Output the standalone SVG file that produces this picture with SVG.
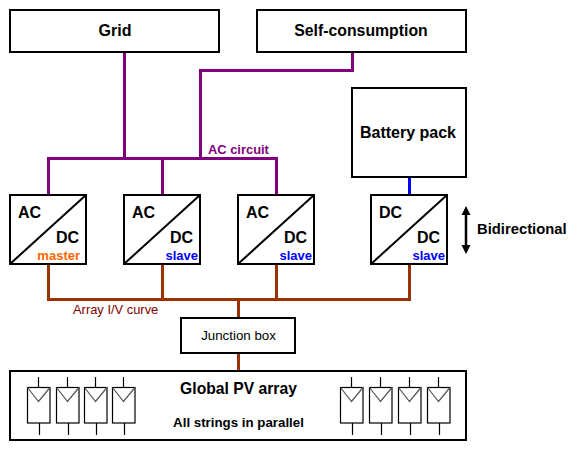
<svg xmlns="http://www.w3.org/2000/svg" width="576" height="451" viewBox="0 0 576 451">
<style>
text{font-family:"Liberation Sans",Arial,sans-serif;font-weight:bold;fill:#000}
.box{fill:#fff;stroke:#000;stroke-width:2}
.big{font-size:16px;text-anchor:middle}
.conv{font-size:16px}
.tag{font-size:13px;text-anchor:end}
.ac{fill:none;stroke:#800080;stroke-width:3}
.dc{fill:none;stroke:#993300;stroke-width:3}
.pv{fill:#fff;stroke:#000;stroke-width:1.200}
.pvt{fill:none;stroke:#000;stroke-width:1.200}
.pvv{fill:none;stroke:#555;stroke-width:1.200}
</style>
<defs>
<g id="panel">
<path class="pvt" d="M11.500 0V10M12.500 46V58"/>
<rect class="pv" x="0.500" y="10.500" width="22.500" height="35.500"/>
<path class="pvv" d="M0.500 10.500L11.500 24.500L23 10.500"/>
</g>
</defs>
<g id="connectors">
<path class="ac" d="M124.500 52V158.500M48.500 195V158.500H276.500V195M162.500 158.500V195M200.500 158.500V70.500H352.500V52"/>
<path class="dc" d="M48.500 264V299.500H409.500V264M162.500 264V299.500M276.500 264V299.500M238.500 299.500V318M238.500 353V371"/>
<path fill="none" stroke="#0000ff" stroke-width="3" d="M409.500 177V195"/>
</g>
<g id="grid"><rect class="box" x="10" y="10" width="209" height="42"/><text class="big" x="115" y="36">Grid</text></g>
<g id="self-consumption"><rect class="box" x="257" y="10" width="209" height="42"/><text class="big" x="361" y="36" style="font-size:15.800px">Self-consumption</text></g>
<g id="battery"><rect class="box" x="352" y="88" width="114" height="89"/><text class="big" x="408" y="138">Battery pack</text></g>
<g id="conv1"><rect class="box" x="10" y="195" width="76" height="69"/><path stroke="#000" stroke-width="2" d="M10 264L86 195"/><text class="conv" x="18" y="218">AC</text><text class="conv" x="56" y="243">DC</text><text class="tag" x="80" y="260" style="fill:#ff6600">master</text></g>
<g id="conv2"><rect class="box" x="124" y="195" width="76" height="69"/><path stroke="#000" stroke-width="2" d="M124 264L200 195"/><text class="conv" x="132" y="218">AC</text><text class="conv" x="170" y="243">DC</text><text class="tag" x="198" y="260" style="fill:#0000ff">slave</text></g>
<g id="conv3"><rect class="box" x="238" y="195" width="76" height="69"/><path stroke="#000" stroke-width="2" d="M238 264L314 195"/><text class="conv" x="246" y="218">AC</text><text class="conv" x="284" y="243">DC</text><text class="tag" x="312" y="260" style="fill:#0000ff">slave</text></g>
<g id="conv4"><rect class="box" x="371" y="195" width="76" height="69"/><path stroke="#000" stroke-width="2" d="M371 264L447 195"/><text class="conv" x="379" y="218">DC</text><text class="conv" x="417" y="243">DC</text><text class="tag" x="445" y="260" style="fill:#0000ff">slave</text></g>
<g id="junction"><rect class="box" x="181" y="318" width="114" height="35"/><text x="238.500" y="340" text-anchor="middle" font-size="13.300" style="font-weight:normal">Junction box</text></g>
<g id="array"><rect class="box" x="10" y="371" width="456" height="69"/>
<text x="238.500" y="394" text-anchor="middle" font-size="15.700">Global PV array</text>
<text x="238.500" y="427" text-anchor="middle" font-size="13.300">All strings in parallel</text>
<use href="#panel" x="27" y="377"/><use href="#panel" x="56" y="377"/><use href="#panel" x="84" y="377"/><use href="#panel" x="112" y="377"/>
<use href="#panel" x="340" y="377"/><use href="#panel" x="369" y="377"/><use href="#panel" x="398" y="377"/><use href="#panel" x="427" y="377"/>
</g>
<g id="labels">
<text x="208" y="154" font-size="12.900" style="fill:#800080">AC circuit</text>
<text x="73" y="314" font-size="12.900" style="fill:#800000;font-weight:normal">Array I/V curve</text>
<text x="477" y="234" font-size="14.800">Bidirectional</text>
<path stroke="#000" stroke-width="2.500" d="M466 213V248"/>
<path d="M466 206L470.500 215H461.500ZM466 254L470.500 245H461.500Z"/>
</g>
</svg>
